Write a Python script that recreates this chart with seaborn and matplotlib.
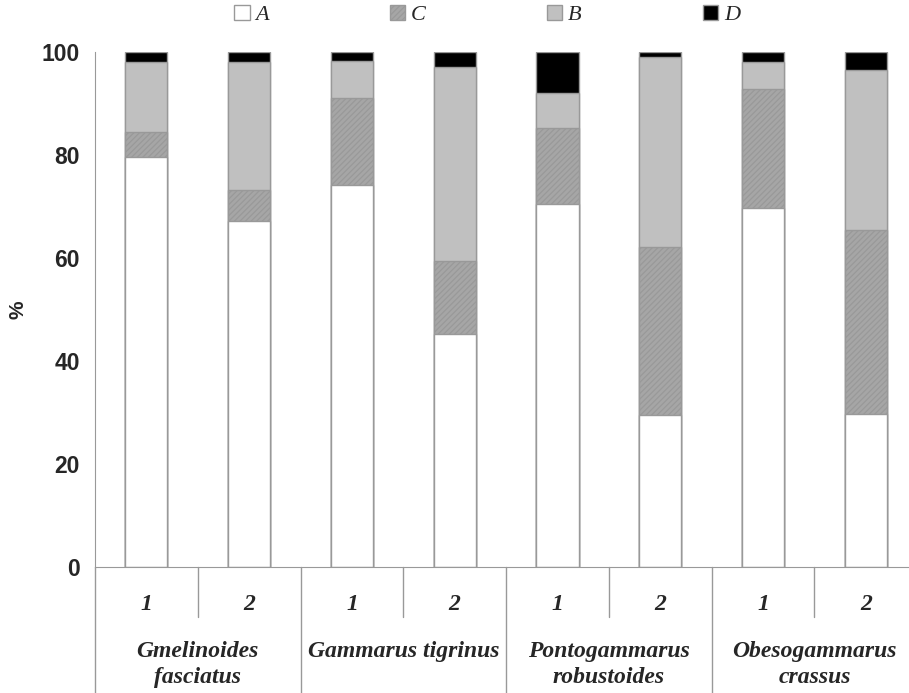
import pandas as pd
import seaborn as sns
import matplotlib.pyplot as plt
from matplotlib.patches import Patch
import matplotlib.transforms as mtransforms

species = ["Gmelinoides\nfasciatus", "Gammarus tigrinus",
           "Pontogammarus\nrobustoides", "Obesogammarus\ncrassus"]
samples = ["1", "2"]
bars = ["G1", "G2", "T1", "T2", "P1", "P2", "O1", "O2"]

# percentages per bar, stacked bottom -> top: A, C, B, D
val_a = [79.6, 67.2, 74.1, 45.3, 70.5, 29.5, 69.7, 29.7]
val_c = [4.9, 6.1, 16.9, 14.2, 14.7, 32.6, 23.2, 35.7]
val_b = [13.5, 24.8, 7.3, 37.6, 6.8, 36.9, 5.1, 31.2]
val_d = [2.0, 1.9, 1.7, 2.9, 8.0, 1.0, 2.0, 3.4]

df = pd.DataFrame({"bar": bars, "A": val_a, "C": val_c, "B": val_b, "D": val_d})
df["cA"] = df["A"]
df["cC"] = df["cA"] + df["C"]
df["cB"] = df["cC"] + df["B"]
df["cD"] = df["cB"] + df["D"]

sns.set_style("white")
plt.rcParams["font.family"] = ["Liberation Sans", "DejaVu Sans"]
plt.rcParams["hatch.color"] = "#333333"
plt.rcParams["hatch.linewidth"] = 0.9

fig = plt.figure(figsize=(9.09, 6.93), dpi=100)
ax = fig.add_axes([95 / 909, 1 - 567 / 693, 1 - 95 / 909, 515 / 693])

edge = "#999999"
hatch_bg = "#a6a6a6"
layers = [("cD", "black", None), ("cB", "#c0c0c0", None),
          ("cC", hatch_bg, "//////"), ("cA", "white", None)]
for col, color, hatch in layers:
    n0 = len(ax.patches)
    sns.barplot(data=df, x="bar", y=col, color=color, width=0.41,
                edgecolor=edge, linewidth=1, saturation=1, ax=ax)
    if hatch:
        for p in ax.patches[n0:]:
            p.set_hatch(hatch)

ax.set_xlim(-0.5, 7.42)
ax.set_ylim(0, 100)
ax.set_yticks([0, 20, 40, 60, 80, 100])
ax.tick_params(axis="y", direction="out", length=6, color=edge, width=1,
               labelsize=16.5, pad=5)
for lab in ax.get_yticklabels():
    lab.set_fontweight("bold")
ax.set_xticks([])
ax.set_xlabel("")
ax.set_ylabel("%", fontsize=15, fontweight="bold", labelpad=10)
sns.despine(ax=ax, top=True, right=True)
ax.spines["left"].set_color(edge)
ax.spines["bottom"].set_color(edge)

# two-level category axis under the bars
trans = mtransforms.blended_transform_factory(ax.transData, ax.transAxes)
px = 1 / 515
serif = ["Liberation Serif", "DejaVu Serif"]
for i, b in enumerate(bars):
    ax.text(i, -38 * px, samples[i % 2], transform=trans, ha="center", va="center",
            fontsize=17, fontweight="bold", fontstyle="italic", family=serif)
for g, name in enumerate(species):
    ax.text(2 * g + 0.5, -74 * px, name, transform=trans, ha="center", va="top",
            fontsize=17, fontweight="bold", fontstyle="italic", family=serif,
            linespacing=1.3)
    ax.plot([2 * g + 0.5] * 2, [0, -50 * px], transform=trans, color=edge,
            lw=1, clip_on=False)
    ax.plot([2 * g + 1.5] * 2, [0, -126 * px], transform=trans, color=edge,
            lw=1, clip_on=False)
ax.plot([-0.5, -0.5], [0, -126 * px], transform=trans, color=edge, lw=1,
        clip_on=False)

handles = [Patch(facecolor="white", edgecolor=edge, label="A"),
           Patch(facecolor=hatch_bg, edgecolor=edge, hatch="//////", label="C"),
           Patch(facecolor="#c0c0c0", edgecolor=edge, label="B"),
           Patch(facecolor="black", edgecolor=edge, label="D")]
fig.legend(handles=handles, loc="center", bbox_to_anchor=(487 / 909, 1 - 15 / 693),
           ncol=4, frameon=False, handlelength=0.7, handleheight=0.7,
           handletextpad=0.25, columnspacing=5.45,
           prop={"family": serif, "style": "italic", "size": 16})

fig.savefig("out.png", dpi=100)
